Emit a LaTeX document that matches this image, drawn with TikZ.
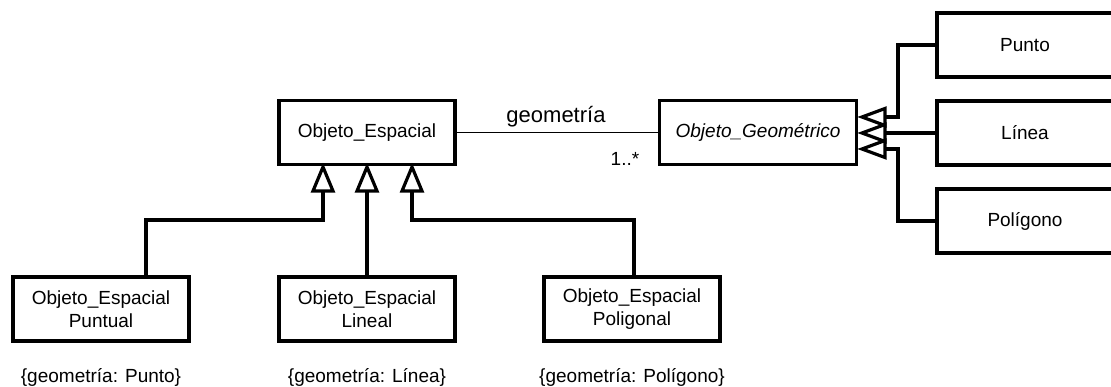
\documentclass[tikz,border=0pt]{standalone}
\usepackage{fontspec}
\setmainfont{Liberation Sans}
\begin{document}
\begin{tikzpicture}[x=1pt,y=-1pt,
  classbox/.style={draw, line width=3.4pt, fill=white, minimum width=176pt,
    minimum height=64pt, align=center, inner sep=0pt,
    font=\fontsize{19}{23}\selectfont},
  note/.style={font=\fontsize{19}{22}\selectfont, inner sep=0pt},
  gen/.style={line width=3.3pt},
  tri/.style={draw, line width=3.2pt, line join=miter, fill=white},
  assoc/.style={line width=1.8pt},
  lbl/.style={font=\fontsize{19}{22}\selectfont, inner sep=0pt, anchor=base}]
\useasboundingbox (0,0) rectangle (1111,387);

% classes
\node[classbox] (oe) at (367,132.5) {Objeto\_Espacial};
\node[classbox, minimum width=197pt] (og) at (758,132.5) {\itshape Objeto\_Geométrico};
\node[classbox] (punto) at (1025,45) {Punto};
\node[classbox] (linea) at (1025,133) {Línea};
\node[classbox] (poligono) at (1025,221) {Polígono};
\node[classbox] (puntual) at (101,309) {Objeto\_Espacial\\Puntual};
\node[classbox] (lineal) at (367,309) {Objeto\_Espacial\\Lineal};
\node[classbox] (poligonal) at (632,309) {Objeto\_Espacial\\Poligonal};

% constraints under the subclasses
\node[note] (c1) at (101,377) {\{geometría: Punto\}};
\node[note] (c2) at (367,377) {\{geometría: Línea\}};
\node[note] (c3) at (632,377) {\{geometría: Polígono\}};

% association
\draw[assoc] (oe.east) -- (og.west);
\node[lbl, font=\fontsize{22}{24}\selectfont] (rol) at (556,123) {geometría};
\node[lbl] (mult) at (625,166) {1..*};

% generalisations of Objeto_Espacial (open triangles under the superclass)
\coordinate (j1) at (323,220);
\coordinate (j3) at (412,220);
\coordinate (b1) at (323,191);
\coordinate (b2) at (367,191);
\coordinate (b3) at (412,191);
\draw[gen] ([xshift=45pt]puntual.north) |- (j1) -- (b1);
\draw[gen] (lineal.north) -- (b2);
\draw[gen] ([xshift=2pt]poligonal.north) |- (j3) -- (b3);
\foreach \b in {b1,b2,b3}
  \draw[tri] (\b) ++(-10,0) -- ++(10,-24) -- ++(10,24) -- cycle;

% generalisations of Objeto_Geometrico (open triangles on its right side)
\coordinate (k1) at (898,117);
\coordinate (k3) at (898,149);
\coordinate (r1) at (885,117);
\coordinate (r2) at (885,133);
\coordinate (r3) at (885,149);
\draw[gen] (punto.west) -- (punto.west -| k1) -- (k1) -- (r1);
\draw[gen] (linea.west) -- (r2);
\draw[gen] (poligono.west) -- (poligono.west -| k3) -- (k3) -- (r3);
\foreach \r in {r1,r2,r3}
  \draw[tri, fill=none] (\r) ++(0,-8.5) -- ++(-23,8.5) -- ++(23,8.5) -- cycle;
\end{tikzpicture}
\end{document}
